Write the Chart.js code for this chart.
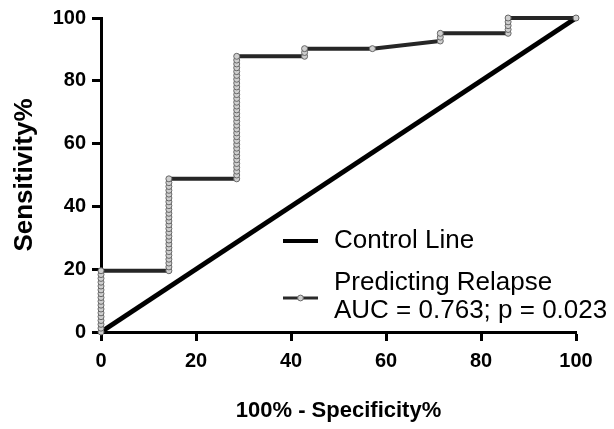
<!DOCTYPE html>
<html>
<head>
<meta charset="utf-8">
<script src="https://cdn.jsdelivr.net/npm/chart.js@4/dist/chart.umd.min.js"></script>
<style>
  html, body { margin: 0; padding: 0; background: #fff; }
  #wrap { width: 614px; height: 429px; }
</style>
</head>
<body>
<div id="wrap"><canvas id="roc" width="614" height="429"></canvas></div>
<script>
// ROC steps: each false-positive rate (100% - specificity) with the sensitivities plotted there
const fprSteps = [0, 14.29, 28.57, 42.86, 57.14, 71.43, 85.71, 100];
const sensAtStep = [
    [0, 1.22, 2.44, 3.66, 4.88, 6.10, 7.32, 8.54, 9.76, 10.98, 12.20, 13.41, 14.63, 15.85, 17.07, 18.29, 19.51],
    [19.51, 20.73, 21.95, 23.17, 24.39, 25.61, 26.83, 28.05, 29.27, 30.49, 31.71, 32.93, 34.15, 35.37, 36.59, 37.80,
     39.02, 40.24, 41.46, 42.68, 43.90, 45.12, 46.34, 47.56, 48.78],
    [48.78, 50.00, 51.22, 52.44, 53.66, 54.88, 56.10, 57.32, 58.54, 59.76, 60.98, 62.20, 63.41, 64.63, 65.85, 67.07,
     68.29, 69.51, 70.73, 71.95, 73.17, 74.39, 75.61, 76.83, 78.05, 79.27, 80.49, 81.71, 82.93, 84.15, 85.37, 86.59, 87.80],
    [87.80, 89.02, 90.24],
    [90.24],
    [92.68, 93.90, 95.12],
    [95.12, 96.34, 97.56, 98.78, 100],
    [100]
];
const controlX = [0, 100];
const controlY = [0, 100];
const axisTicks = [0, 20, 40, 60, 80, 100];
const legendLabels = ['Control Line', ['Predicting Relapse', 'AUC = 0.763; p = 0.023']];
const xTitle = '100% - Specificity%';
const yTitle = 'Sensitivity%';

const FONT = "'Liberation Sans', Arial, sans-serif";

const rocPoints = [];
fprSteps.forEach((x, i) => sensAtStep[i].forEach(y => rocPoints.push({ x, y })));
const controlPoints = controlX.map((x, i) => ({ x, y: controlY[i] }));

const legendPlugin = {
    id: 'sideLegend',
    afterDraw(chart) {
        const { ctx, chartArea: a } = chart;
        const x0 = a.left + 182, x1 = a.left + 217, tx = a.left + 233;
        ctx.save();
        ctx.lineCap = 'butt';
        // control line sample
        ctx.strokeStyle = '#000';
        ctx.lineWidth = 4;
        ctx.beginPath(); ctx.moveTo(x0, 241); ctx.lineTo(x1, 241); ctx.stroke();
        // roc sample
        ctx.strokeStyle = '#2a2a2a';
        ctx.lineWidth = 3;
        ctx.beginPath(); ctx.moveTo(x0, 298); ctx.lineTo(x1, 298); ctx.stroke();
        ctx.fillStyle = '#cfcfcf';
        ctx.strokeStyle = '#666';
        ctx.lineWidth = 1;
        ctx.beginPath(); ctx.arc((x0 + x1) / 2, 298, 2.9, 0, Math.PI * 2); ctx.fill(); ctx.stroke();

        ctx.fillStyle = '#000';
        ctx.font = '26px ' + FONT;
        ctx.textBaseline = 'middle';
        ctx.textAlign = 'left';
        ctx.fillText(legendLabels[0], tx, 241);
        ctx.fillText(legendLabels[1][0], tx, 283);
        ctx.fillText(legendLabels[1][1], tx, 311);
        ctx.restore();
    }
};

const axisCommon = {
    type: 'linear',
    min: 0,
    max: 100,
    border: { display: true, color: '#000', width: 3 },
    grid: { drawOnChartArea: false, drawTicks: true, tickLength: 9, tickWidth: 3, tickColor: '#000' },
    afterBuildTicks(scale) { scale.ticks = axisTicks.map(v => ({ value: v })); }
};

new Chart(document.getElementById('roc'), {
    type: 'scatter',
    data: {
        datasets: [{
            label: 'Predicting Relapse',
            data: rocPoints,
            showLine: true,
            borderColor: '#262626',
            borderWidth: 4,
            pointRadius: 3,
            pointBackgroundColor: '#cfcfcf',
            pointBorderColor: '#666',
            pointBorderWidth: 1,
            clip: false,
            order: 0
        }, {
            label: 'Control Line',
            data: controlPoints,
            showLine: true,
            borderColor: '#000',
            borderWidth: 5,
            pointRadius: 0,
            clip: false,
            order: 1
        }]
    },
    options: {
        responsive: false,
        animation: false,
        devicePixelRatio: 1,
        layout: { padding: { left: 0, top: 17, right: 38, bottom: 0 } },
        plugins: { legend: { display: false }, tooltip: { enabled: false } },
        scales: {
            x: {
                ...axisCommon,
                position: 'bottom',
                ticks: { color: '#000', padding: 8, maxRotation: 0, font: { family: FONT, size: 20, weight: 'bold' } },
                title: { display: true, text: xTitle, color: '#000', padding: { top: 0, bottom: 5 },
                         font: { family: FONT, size: 22, weight: 'bold' } },
                afterFit(scale) { scale.height = 97; }
            },
            y: {
                ...axisCommon,
                position: 'left',
                ticks: { color: '#000', padding: 6, font: { family: FONT, size: 20, weight: 'bold' } },
                title: { display: true, text: yTitle, color: '#000', padding: { top: 9, bottom: 0 },
                         font: { family: FONT, size: 26, weight: 'bold' } },
                afterFit(scale) { scale.width = 101; }
            }
        }
    },
    plugins: [legendPlugin]
});
</script>
</body>
</html>
